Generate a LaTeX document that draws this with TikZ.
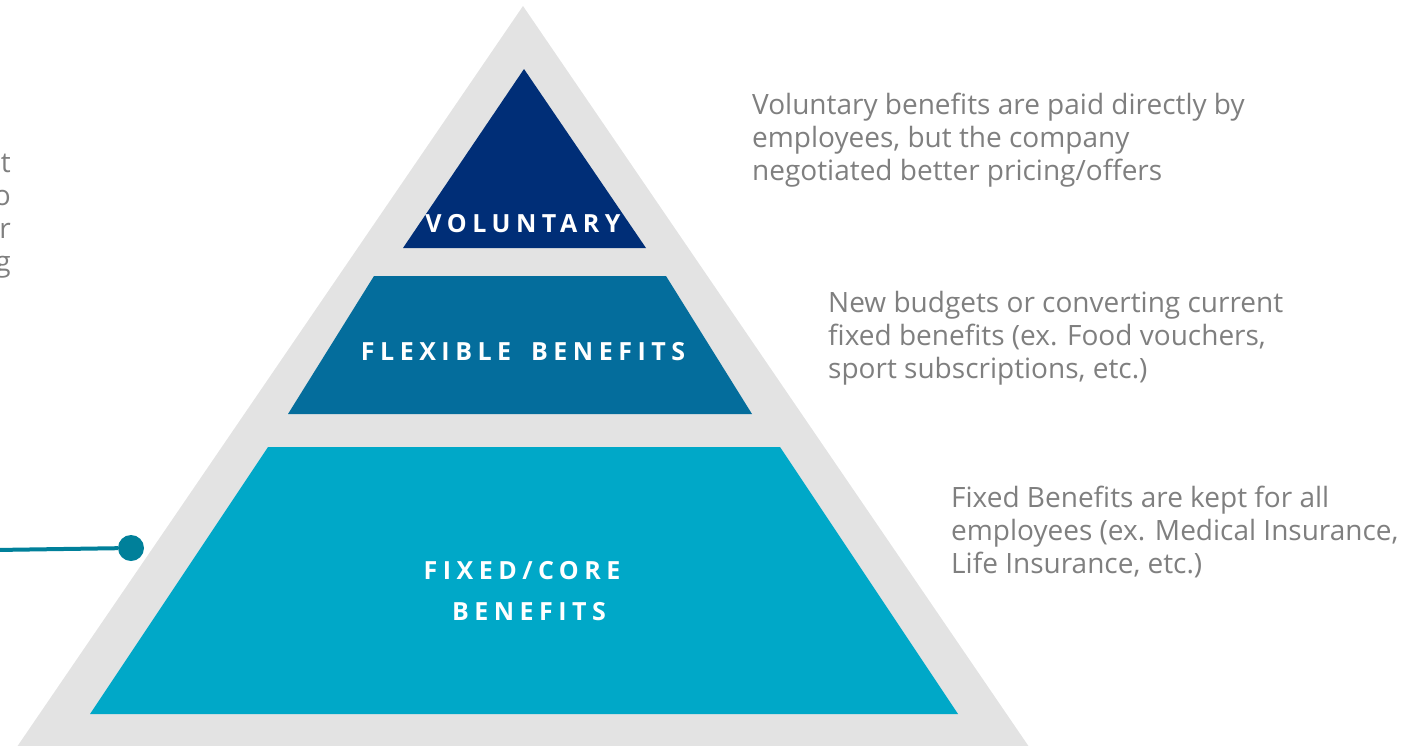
\documentclass[tikz,border=0pt]{standalone}
\usepackage{fontspec}
\setmainfont{Open Sans}
\newfontfamily\tierfont[LetterSpace=22]{Open Sans}
\usetikzlibrary{positioning}

\definecolor{pyrgray}{RGB}{227,227,227}
\definecolor{volblue}{RGB}{0,46,119}
\definecolor{flexblue}{RGB}{4,109,156}
\definecolor{fixblue}{RGB}{0,168,200}
\definecolor{linkteal}{RGB}{0,128,154}
\definecolor{notegray}{RGB}{127,127,127}

\tikzset{
  tier/.style={text=white, font=\tierfont\bfseries\fontsize{25}{41}\selectfont, align=center, inner sep=0pt},
  note/.style={text=notegray, font=\fontsize{28}{32.7}\selectfont, align=left, anchor=base west, inner sep=0pt},
}

\begin{document}
\begin{tikzpicture}[x=1pt,y=-1pt]
	\clip (0,0) rectangle (1403,745);

	% pyramid
	\fill[pyrgray] (523,6) -- (1038,760) -- (8,760) -- cycle;
	\fill[volblue] (524,69) -- (646,248) -- (403,248) -- cycle;
	\fill[flexblue] (374,276) -- (666,276) -- (752,414) -- (288,414) -- cycle;
	\fill[fixblue] (268,447) -- (780,447) -- (958,714) -- (90,714) -- cycle;

	\node[tier] (vol) at (523,224) {VOLUNTARY};
	\node[tier] (flex) at (523,352) {FLEXIBLE\hspace{8pt} BENEFITS};
	\node[tier] (fix) at (522,591) {FIXED/CORE\\\hspace{14pt}BENEFITS};

	% descriptions (anchored at the last line)
	\node[note] (volnote) at (752,180) {Voluntary benefits are paid directly by\\employees, but the company\\negotiated better pricing/offers};
	\node[note] (flexnote) at (828,378) {New budgets or converting current\\fixed benefits (ex. Food vouchers,\\sport subscriptions, etc.)};
	\node[note] (fixnote) at (951,573) {Fixed Benefits are kept for all\\employees (ex. Medical Insurance,\\Life Insurance, etc.)};

	% cut off text on the left
	\node[note, align=right, anchor=base east] (leftnote) at (11,271) {t\\o\\r\\g};

	\coordinate (linkstart) at (-5,550);
	\node[circle, fill=linkteal, minimum size=26pt, inner sep=0pt] (dot) at (131,548) {};
	\draw[linkteal, line width=4pt] (linkstart) -- (dot);

\end{tikzpicture}
\end{document}
